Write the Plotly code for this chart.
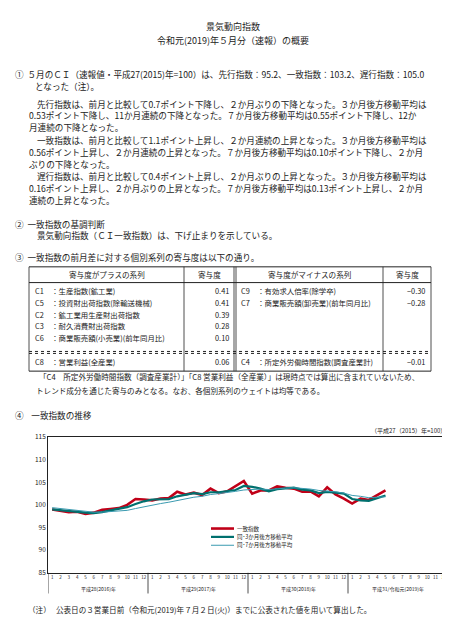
import plotly.graph_objects as go

W, H = 450, 618
FONT = "Noto Sans CJK JP"

months = list(range(1, 42))
ci_index = [99.0, 98.7, 98.4, 98.5, 98.0, 98.3, 98.9, 99.1, 99.3, 100.0, 101.3, 101.2,
            101.0, 101.4, 101.5, 102.9, 102.3, 102.7, 102.2, 103.6, 102.6, 103.0, 104.2, 105.3,
            102.5, 103.2, 103.2, 104.1, 103.8, 103.6, 102.9, 103.0, 101.9, 103.9, 102.3, 101.4,
            100.3, 101.4, 101.1, 102.1, 103.2]
ma3 = [99.0, 98.8, 98.6, 98.5, 98.3, 98.2, 98.4, 98.8, 99.1, 99.5, 100.2, 100.8,
       101.2, 101.2, 101.3, 101.9, 102.2, 102.6, 102.4, 102.8, 102.8, 103.1, 103.3, 104.2,
       104.0, 103.6, 103.0, 103.5, 103.7, 103.8, 103.4, 103.2, 102.6, 102.9, 102.7, 102.5,
       101.3, 101.0, 100.9, 101.5, 102.1]
ma7 = [99.4, 99.2, 99.0, 98.9, 98.6, 98.4, 98.4, 98.5, 98.7, 98.8, 99.2, 99.6,
       100.0, 100.3, 100.6, 101.0, 101.4, 101.7, 101.9, 102.3, 102.5, 102.7, 103.0, 103.3,
       103.4, 103.5, 103.4, 103.6, 103.7, 103.8, 103.7, 103.5, 103.2, 103.1, 102.9, 102.6,
       102.1, 101.9, 101.6, 101.7, 101.8]
month_labels = [str(m) for m in range(1, 13)] * 4
year_labels = ["平成28(2016)年", "平成29(2017)年", "平成30(2018)年", "平成31/令和元(2019)年"]
series_names = ["一致指数", "同･3か月後方移動平均", "同･7か月後方移動平均"]
series_colors = ["#c00018", "#00706e", "#3a9ab0"]
series_widths = [2.6, 2.2, 1]

plus_names = ["C1　：生産指数(鉱工業)", "C5　：投資財出荷指数(除輸送機械)", "C2　：鉱工業用生産財出荷指数",
              "C3　：耐久消費財出荷指数", "C6　：商業販売額(小売業)(前年同月比)"]
plus_vals = ["0.41", "0.41", "0.39", "0.28", "0.10"]
minus_names = ["C9　：有効求人倍率(除学卒)", "C7　：商業販売額(卸売業)(前年同月比)"]
minus_vals = ["−0.30", "−0.28"]

def py(y):
    return 1 - y / H

def px(x):
    return x / W

fig = go.Figure()
for vals, name, c, w in zip([ci_index, ma3, ma7], series_names, series_colors, series_widths):
    fig.add_trace(go.Scatter(x=months, y=vals, mode="lines", name=name,
                             line=dict(color=c, width=w)))

ann = []
shapes = []

def text(x, y, s, size=8.6, anchor="left"):
    ann.append(dict(x=px(x), y=py(y), xref="paper", yref="paper", text=s, showarrow=False,
                    xanchor=anchor, yanchor="middle", font=dict(size=size, color="#222")))

def line(x0, y0, x1, y1, width=0.8, dash="solid", color="#222"):
    shapes.append(dict(type="line", xref="paper", yref="paper", x0=px(x0), y0=py(y0),
                       x1=px(x1), y1=py(y1), line=dict(color=color, width=width, dash=dash)))

text(225, 13, "景気動向指数", 9, "center")
text(225, 27, "令和元(2019)年５月分（速報）の概要", 9, "center")
body = [
    (5, 61, "①  ５月のＣＩ（速報値・平成27(2015)年=100）は、先行指数：95.2、一致指数：103.2、遅行指数：105.0"),
    (25, 73, "となった（注）。"),
    (27, 91, "先行指数は、前月と比較して0.7ポイント下降し、２か月ぶりの下降となった。３か月後方移動平均は"),
    (19, 103, "0.53ポイント下降し、11か月連続の下降となった。７か月後方移動平均は0.55ポイント下降し、12か"),
    (19, 115, "月連続の下降となった。"),
    (27, 128, "一致指数は、前月と比較して1.1ポイント上昇し、２か月連続の上昇となった。３か月後方移動平均は"),
    (19, 140, "0.56ポイント上昇し、２か月連続の上昇となった。７か月後方移動平均は0.10ポイント下降し、２か月"),
    (19, 152, "ぶりの下降となった。"),
    (27, 165, "遅行指数は、前月と比較して0.4ポイント上昇し、２か月ぶりの上昇となった。３か月後方移動平均は"),
    (19, 177, "0.16ポイント上昇し、２か月ぶりの上昇となった。７か月後方移動平均は0.13ポイント上昇し、２か月"),
    (19, 189, "連続の上昇となった。"),
    (5, 213, "②  一致指数の基調判断"),
    (27, 225, "景気動向指数（ＣＩ一致指数）は、下げ止まりを示している。"),
    (5, 247, "③  一致指数の前月差に対する個別系列の寄与度は以下の通り。"),
    (29, 368, "「C4　所定外労働時間指数（調査産業計）」「C8 営業利益（全産業）」は現時点では算出に含まれていないため、"),
    (26, 383, "トレンド成分を通じた寄与のみとなる。なお、各個別系列のウェイトは均等である。"),
    (5, 408, "④    一致指数の推移"),
    (18, 605, "（注）   公表日の３営業日前（令和元(2019)年７月２日(火)）までに公表された値を用いて算出した。"),
]
for x, y, s in body:
    text(x, y, s, 7.6 if y in (368, 383, 605) else 8.6)
text(440, 423, "（平成27（2015）年=100）", 6, "right")

# table
L, C1, C2, C3, R = 21, 176, 227, 375, 423
T, HB, DS, B = 257, 273, 344, 363
for yy in (T, HB, B):
    line(L, yy, R, yy, 1)
line(L, DS - 1, R, DS - 1, 1, "dot")
line(L, DS + 1, R, DS + 1, 1, "dot")
for xx in (L, C1, C3, R):
    line(xx, T, xx, B, 0.8)
line(C2 - 1, T, C2 - 1, B, 0.8)
line(C2 + 1, T, C2 + 1, B, 0.8)
text((L + C1) / 2, 265, "寄与度がプラスの系列", 7.6, "center")
text((C1 + C2) / 2, 265, "寄与度", 7.6, "center")
text((C2 + C3) / 2, 265, "寄与度がマイナスの系列", 7.6, "center")
text((C3 + R) / 2, 265, "寄与度", 7.6, "center")
row_y = [281, 293, 305, 317, 329]
for i, (n, v) in enumerate(zip(plus_names, plus_vals)):
    text(L + 4, row_y[i], n, 7.4)
    text(C2 - 4, row_y[i], v, 7.4, "right")
for i, (n, v) in enumerate(zip(minus_names, minus_vals)):
    text(C2 + 4, row_y[i], n, 7.4)
    text(R - 4, row_y[i], v, 7.4, "right")
text(L + 4, 353, "C8　：営業利益(全産業)", 7.4)
text(C2 - 4, 353, "0.06", 7.4, "right")
text(C2 + 4, 353, "C4　：所定外労働時間指数(調査産業計)", 7.4)
text(R - 4, 353, "−0.01", 7.4, "right")

# legend drawn by hand (plotly legend rows are too tall at this size)
for i, (name, c, w) in enumerate(zip(series_names, series_colors, series_widths)):
    ly = 523 + 8.5 * i
    line(203, ly, 226, ly, w, color=c)
    text(227, ly, name, 5.5)

# chart x-axis year blocks
for k in range(5):
    shapes.append(dict(type="line", xref="x", yref="paper", x0=0.5 + 12 * k, x1=0.5 + 12 * k,
                       y0=py(568), y1=py(589), line=dict(color="#222", width=0.8)))
for k, yl in enumerate(year_labels):
    ann.append(dict(x=6.5 + 12 * k, y=py(584), xref="x", yref="paper", text=yl, showarrow=False,
                    yanchor="middle", font=dict(size=5, color="#222")))

fig.update_layout(
    width=W, height=H, margin=dict(l=0, r=0, t=0, b=0),
    paper_bgcolor="white", plot_bgcolor="white",
    font=dict(family=FONT, color="#222"),
    annotations=ann, shapes=shapes, showlegend=False,
    xaxis=dict(domain=[px(40), px(440)], range=[0.5, 48.5], tickvals=list(range(1, 49)),
               ticktext=month_labels, tickfont=dict(size=4.5), ticks="", ticklen=0, showgrid=False,
               showline=True, mirror=True, linecolor="#222", linewidth=0.8, zeroline=False),
    yaxis=dict(domain=[py(568), py(430)], range=[85, 115], dtick=5, tickfont=dict(size=6.5),
               ticks="", showgrid=False, showline=True, mirror=True, linecolor="#222",
               linewidth=0.8, zeroline=False),
)

fig.write_html("out.html")
